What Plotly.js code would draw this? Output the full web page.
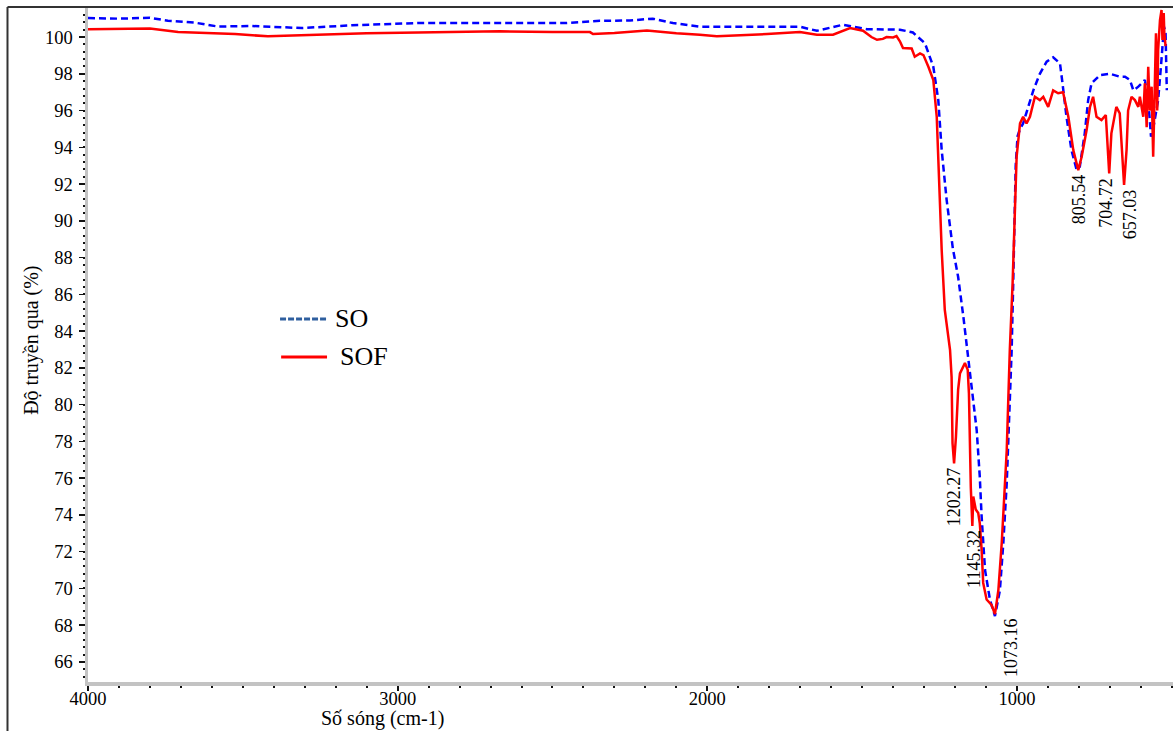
<!DOCTYPE html>
<html>
<head>
<meta charset="utf-8">
<script src="https://cdn.plot.ly/plotly-3.0.1.min.js"></script>
<style>
  html, body { margin: 0; padding: 0; background: #fff; }
  #chart { width: 1173px; height: 731px; }
</style>
</head>
<body>
<div id="chart"></div>
<script>
// ---- Data ----
const soWavenumber = [4000, 3900, 3800, 3742, 3654, 3580, 3470, 3364, 3309, 3148, 2934, 2663, 2453, 2347, 2250, 2176, 2111, 2024, 1850, 1701, 1646, 1562, 1485, 1443, 1378, 1336, 1297, 1270, 1254, 1243, 1227, 1207, 1190, 1173, 1157, 1141, 1130, 1120, 1114, 1103, 1087, 1071, 1055, 1044, 1033, 1023, 1017, 1012, 1008, 1004, 998, 990, 980, 947, 926, 904, 883, 861, 853, 840, 824, 807, 797, 781, 770, 759, 732, 700, 667, 651, 635, 624, 608, 587, 576, 567, 557, 544, 535, 525, 520, 518, 516];
const soTransmittance = [101.03, 101.0, 101.05, 100.89, 100.78, 100.57, 100.6, 100.55, 100.49, 100.64, 100.76, 100.76, 100.76, 100.88, 100.9, 101.0, 100.76, 100.56, 100.55, 100.56, 100.34, 100.67, 100.43, 100.42, 100.4, 100.25, 99.66, 98.38, 96.57, 93.85, 91.13, 88.5, 86.96, 84.78, 82.6, 80.43, 78.62, 76.08, 73.9, 71.0, 69.37, 68.5, 69.9, 72.47, 75.7, 80.25, 82.97, 86.6, 89.5, 93.0, 94.6, 95.0, 95.3, 97.1, 98.0, 98.66, 98.9, 98.57, 97.5, 95.66, 93.85, 92.76, 92.95, 94.76, 96.57, 97.48, 97.93, 98.0, 97.84, 97.84, 97.66, 97.1, 97.3, 97.66, 96.57, 94.58, 95.3, 96.57, 98.38, 100.56, 100.2, 98.4, 97.1];

const sofWavenumber = [4000, 3900, 3800, 3709, 3600, 3525, 3419, 3257, 3100, 2934, 2670, 2500, 2379, 2369, 2300, 2195, 2100, 2024, 1969, 1807, 1701, 1646, 1594, 1539, 1497, 1470, 1452, 1433, 1421, 1400, 1389, 1378, 1368, 1340, 1330, 1313, 1302, 1286, 1270, 1259, 1251, 1243, 1233, 1216, 1211, 1208, 1203, 1197, 1190, 1184, 1168, 1159, 1155, 1152, 1149, 1144, 1141, 1133, 1125, 1120, 1114, 1109, 1098, 1082, 1071, 1060, 1049, 1033, 1023, 1014, 1010, 1001, 990, 980, 969, 958, 942, 926, 915, 899, 883, 867, 851, 834, 818, 802, 791, 775, 764, 754, 743, 727, 713, 702, 695, 679, 668, 654, 646, 641, 630, 619, 608, 603, 592, 587, 581, 576, 571, 565, 560, 555, 551, 547, 544, 538, 533, 530, 526, 524, 520];
const sofTransmittance = [100.43, 100.45, 100.46, 100.27, 100.2, 100.16, 100.04, 100.13, 100.2, 100.25, 100.31, 100.28, 100.27, 100.16, 100.22, 100.36, 100.2, 100.13, 100.04, 100.16, 100.27, 100.13, 100.13, 100.49, 100.34, 100.0, 99.85, 99.9, 100.0, 99.98, 100.05, 99.77, 99.4, 99.38, 98.93, 99.11, 99.02, 98.38, 97.66, 95.66, 92.04, 88.41, 85.15, 82.97, 81.5, 77.9, 76.8, 78.25, 80.8, 81.7, 82.26, 81.9, 80.6, 78.1, 75.5, 73.4, 75.0, 74.3, 74.1, 73.55, 72.1, 70.3, 69.4, 69.1, 68.6, 69.9, 72.5, 77.5, 83.0, 86.6, 88.4, 93.49, 95.3, 95.66, 95.3, 95.66, 96.75, 96.57, 96.75, 96.2, 97.1, 96.94, 97.0, 95.66, 93.85, 92.76, 93.49, 94.94, 96.2, 96.75, 95.66, 95.48, 95.76, 92.58, 94.76, 96.2, 95.85, 91.95, 93.85, 96.0, 96.75, 96.57, 96.2, 96.75, 95.66, 97.48, 95.1, 98.38, 96.0, 97.3, 93.49, 96.57, 100.2, 96.0, 99.3, 100.92, 101.47, 99.84, 101.3, 100.2, 99.5];

const seriesNames = ["SO", "SOF"];
const xTickValues = [4000, 3000, 2000, 1000];
const yTickValues = [66, 68, 70, 72, 74, 76, 78, 80, 82, 84, 86, 88, 90, 92, 94, 96, 98, 100];
const peakWavenumbers = [1202.27, 1145.32, 1073.16, 805.54, 704.72, 657.03];
const peakTransmittance = [76.8, 73.4, 68.6, 92.76, 92.58, 91.95];
const peakLabels = ["1202.27", "1145.32", "1073.16", "805.54", "704.72", "657.03"];
const peakShift = [0, 2, 16, 2, -2, 7];
const xTitle = "Số sóng (cm-1)";
const yTitle = "Độ truyền qua (%)";

const FONT = "Liberation Serif";

const traces = [
  { x: soWavenumber, y: soTransmittance, name: seriesNames[0], type: "scatter", mode: "lines",
    line: { color: "#0000ff", width: 2.5, dash: "7px,4px" }, showlegend: false },
  { x: sofWavenumber, y: sofTransmittance, name: seriesNames[1], type: "scatter", mode: "lines",
    line: { color: "#ff0000", width: 2.5 }, showlegend: false }
];

const annotations = peakLabels.map((t, i) => ({
  x: peakWavenumbers[i], y: peakTransmittance[i], xref: "x", yref: "y",
  text: t, showarrow: false, textangle: -90, xanchor: "center", yanchor: "top",
  xshift: peakShift[i], yshift: -2,
  font: { family: FONT, size: 18, color: "#000" }
}));

annotations.push(
  { text: xTitle, xref: "paper", yref: "paper", x: 0.2715, y: -0.0545, xanchor: "center", yanchor: "middle",
    showarrow: false, font: { family: FONT, size: 20, color: "#000" } },
  { text: yTitle, xref: "paper", yref: "paper", x: -0.052, y: 0.507, xanchor: "center", yanchor: "middle",
    textangle: -90, showarrow: false, font: { family: FONT, size: 20, color: "#000" } },
  { text: seriesNames[0], xref: "paper", yref: "paper", x: 0.2262, y: 0.5386, xanchor: "left", yanchor: "middle",
    showarrow: false, font: { family: FONT, size: 26, color: "#000" } },
  { text: seriesNames[1], xref: "paper", yref: "paper", x: 0.2300, y: 0.4822, xanchor: "left", yanchor: "middle",
    showarrow: false, font: { family: FONT, size: 26, color: "#000" } }
);

const shapes = [
  // figure frame (left and top)
  { type: "line", xref: "paper", yref: "paper", x0: -0.0742, x1: -0.0742, y0: 1.0015, y1: -0.08, line: { color: "#333", width: 2 } },
  { type: "line", xref: "paper", yref: "paper", x0: -0.0742, x1: 1.0, y0: 1.0015, y1: 1.0015, line: { color: "#333", width: 2 } },
  // legend samples
  { type: "line", xref: "paper", yref: "paper", x0: 0.177, x1: 0.2194, y0: 0.5386, y1: 0.5386, line: { color: "#2f5f9f", width: 3, dash: "6px,2px" } },
  { type: "line", xref: "paper", yref: "paper", x0: 0.178, x1: 0.2203, y0: 0.4822, y1: 0.4822, line: { color: "#ff0000", width: 3 } }
];

const layout = {
  width: 1173, height: 731,
  margin: { l: 88, r: 0, t: 8, b: 49 },
  paper_bgcolor: "#fff", plot_bgcolor: "#fff",
  font: { family: FONT, size: 18, color: "#000" },
  xaxis: {
    range: [4000, 496], showgrid: false, zeroline: false,
    showline: true, linecolor: "#c3c3c3", linewidth: 3.5,
    tickmode: "array", tickvals: xTickValues, ticktext: xTickValues.map(String),
    ticks: "outside", ticklen: 5, tickwidth: 2, tickcolor: "#111",
    ticklabelstandoff: -8,
    tickfont: { family: FONT, size: 18.5, color: "#000" },
    minor: { dtick: 100, tick0: 0, ticks: "outside", ticklen: 2, tickwidth: 2, tickcolor: "#111" }
  },
  yaxis: {
    range: [64.91, 101.58], showgrid: false, zeroline: false,
    showline: true, linecolor: "#c3c3c3", linewidth: 3.5,
    tickmode: "array", tickvals: yTickValues, ticktext: yTickValues.map(String),
    ticks: "outside", ticklen: 6, tickwidth: 1.5, tickcolor: "#111",
    ticklabelstandoff: 2,
    tickfont: { family: FONT, size: 18.5, color: "#000" },
    minor: { dtick: 0.4, tick0: 0, ticks: "outside", ticklen: 2, tickwidth: 2, tickcolor: "#111" }
  },
  annotations: annotations,
  shapes: shapes,
  showlegend: false
};

Plotly.newPlot("chart", traces, layout, { displayModeBar: false, staticPlot: true });
</script>
</body>
</html>
